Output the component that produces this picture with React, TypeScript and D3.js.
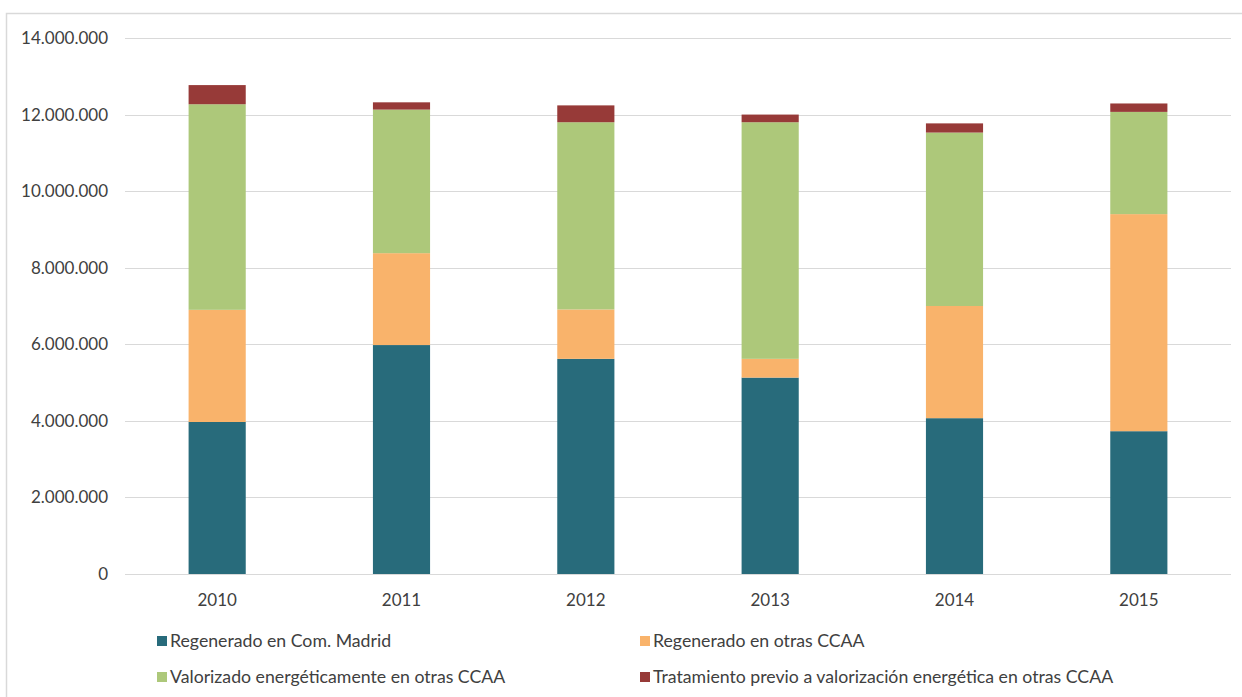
import React from "react";
import * as d3 from "d3";

const years = ["2010", "2011", "2012", "2013", "2014", "2015"];
const regeneradoMadrid = [3970000, 5980000, 5620000, 5130000, 4070000, 3730000];
const regeneradoOtras = [2930000, 2400000, 1290000, 490000, 2930000, 5670000];
const valorizado = [5370000, 3750000, 4890000, 6180000, 4530000, 2670000];
const tratamiento = [500000, 190000, 440000, 200000, 240000, 220000];
const yTicks = [0, 2000000, 4000000, 6000000, 8000000, 10000000, 12000000, 14000000];

const seriesNames = [
  "Regenerado en Com. Madrid",
  "Regenerado en otras CCAA",
  "Valorizado energéticamente en otras CCAA",
  "Tratamiento previo a valorización energética en otras CCAA",
];
const seriesColors = ["#286b7b", "#f9b36b", "#adc87a", "#973a38"];

const W = 1242;
const H = 697;
const FONT = "Lato, 'Open Sans', sans-serif";

export default function App() {
  const seriesValues = [regeneradoMadrid, regeneradoOtras, valorizado, tratamiento];
  const rows = years.map((y, i) => {
    const r: Record<string, number | string> = { year: y };
    seriesNames.forEach((n, k) => (r[n] = seriesValues[k][i]));
    return r;
  });
  const stack = d3.stack<any>().keys(seriesNames)(rows);

  const x = d3.scaleBand().domain(years).range([125, 1231]).paddingInner(0.69).paddingOuter(0.345);
  const y = d3.scaleLinear().domain([0, 14000000]).range([574, 38]);
  const fmt = (v: number) => (v === 0 ? "0" : d3.format(",")(v).replace(/,/g, "."));

  const legendPos = [
    { x: 157, y: 641 },
    { x: 640, y: 641 },
    { x: 157, y: 677 },
    { x: 640, y: 677 },
  ];

  return (
    <svg width={W} height={H} style={{ position: "absolute", left: 0, top: 0, background: "#fff" }}>
      <rect x={6.5} y={13.5} width={W + 10} height={H + 10} fill="#fff" stroke="#d9d9d9" strokeWidth={1.5} />
      {yTicks.map((t) => (
        <g key={t}>
          <line x1={125} x2={1231} y1={Math.round(y(t)) + 0.5} y2={Math.round(y(t)) + 0.5} stroke="#d9d9d9" strokeWidth={1.2} />
          <text x={108} y={y(t)} dy="0.35em" textAnchor="end" fontFamily={FONT} fontSize={17} fill="#404040">
            {fmt(t)}
          </text>
        </g>
      ))}
      {stack.map((s, k) => (
        <g key={k} fill={seriesColors[k]}>
          {s.map((d, i) => (
            <rect key={i} x={x(years[i])} width={x.bandwidth()} y={y(d[1])} height={y(d[0]) - y(d[1])} />
          ))}
        </g>
      ))}
      {years.map((yr) => (
        <text key={yr} x={(x(yr) as number) + x.bandwidth() / 2} y={600} dy="0.35em" textAnchor="middle" fontFamily={FONT} fontSize={17} fill="#404040">
          {yr}
        </text>
      ))}
      {seriesNames.map((n, k) => (
        <g key={n}>
          <rect x={legendPos[k].x} y={legendPos[k].y - 5} width={10} height={10} fill={seriesColors[k]} />
          <text x={legendPos[k].x + 13} y={legendPos[k].y} dy="0.35em" fontFamily={FONT} fontSize={17.7} fill="#404040">
            {n}
          </text>
        </g>
      ))}
    </svg>
  );
}
